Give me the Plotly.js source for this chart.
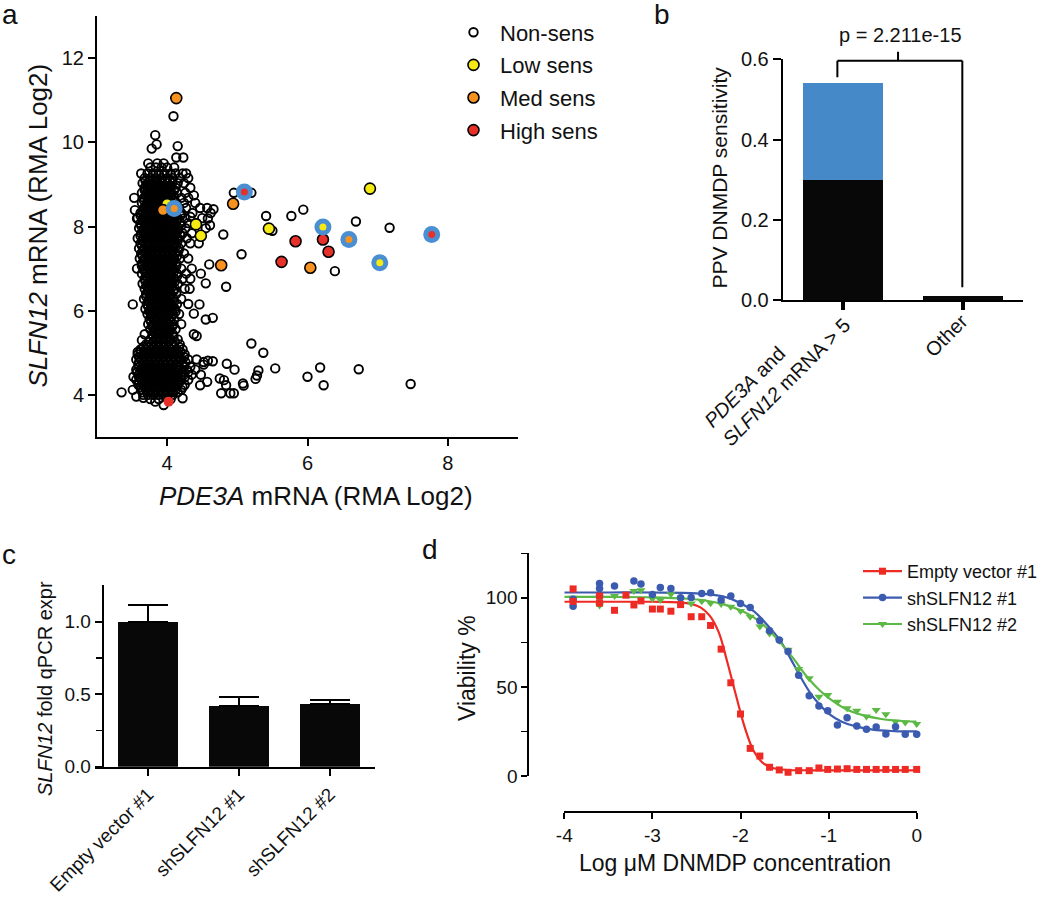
<!DOCTYPE html>
<html><head><meta charset="utf-8">
<script src="https://cdn.plot.ly/plotly-3.0.1.min.js"></script>
<style>html,body{margin:0;padding:0;background:#fff;} #chart{width:1050px;height:899px;}</style>
</head><body><div id="chart"></div>
<script>
// ================= DATA =================
// ---- Panel a: PDE3A vs SLFN12 expression (RMA log2) ----
// dense cell-line cluster, row by row: [SLFN12 value, [PDE3A values]]
const nonSensRows = [
  [9.50, [3.73, 3.86, 3.95]],
  [9.40, [3.76, 3.84, 3.92, 4.00, 4.10]],
  [9.26, [3.72, 3.80, 3.88, 3.96, 4.05, 4.12, 4.22, 4.27]],
  [9.15, [3.68, 3.76, 3.84, 3.92, 4.00, 4.08, 4.18, 4.30]],
  [9.03, [3.65, 3.72, 3.79, 3.86, 3.93, 4.00, 4.07, 4.15, 4.24]],
  [8.92, [3.68, 3.75, 3.82, 3.89, 3.96, 4.03, 4.12, 4.33]],
  [8.80, [3.64, 3.71, 3.78, 3.85, 3.92, 3.99, 4.06, 4.14, 4.26]],
  [8.68, [3.67, 3.74, 3.81, 3.88, 3.95, 4.02, 4.10, 4.20, 4.30]],
  [8.56, [3.64, 3.71, 3.78, 3.85, 3.92, 3.99, 4.06, 4.13, 4.24, 4.40]],
  [8.44, [3.67, 3.74, 3.81, 3.88, 3.95, 4.02, 4.09, 4.17, 4.27, 4.47, 4.57]],
  [8.32, [3.62, 3.69, 3.76, 3.83, 3.90, 3.97, 4.04, 4.11, 4.20, 4.36, 4.62]],
  [8.20, [3.58, 3.66, 3.73, 3.80, 3.87, 3.94, 4.01, 4.08, 4.15, 4.25, 4.50]],
  [8.08, [3.62, 3.69, 3.76, 3.83, 3.90, 3.97, 4.04, 4.11, 4.19, 4.30, 4.42]],
  [7.96, [3.60, 3.67, 3.74, 3.81, 3.88, 3.95, 4.02, 4.09, 4.16, 4.26, 4.55]],
  [7.84, [3.63, 3.70, 3.77, 3.84, 3.91, 3.98, 4.05, 4.12, 4.22, 4.35]],
  [7.72, [3.58, 3.66, 3.73, 3.80, 3.87, 3.94, 4.01, 4.08, 4.15, 4.28]],
  [7.60, [3.62, 3.69, 3.76, 3.83, 3.90, 3.97, 4.04, 4.11, 4.20, 4.33, 4.45]],
  [7.48, [3.60, 3.67, 3.74, 3.81, 3.88, 3.95, 4.02, 4.09, 4.17]],
  [7.36, [3.63, 3.70, 3.77, 3.84, 3.91, 3.98, 4.05, 4.12, 4.24]],
  [7.24, [3.61, 3.68, 3.75, 3.82, 3.89, 3.96, 4.03, 4.10, 4.18, 4.30]],
  [7.12, [3.64, 3.71, 3.78, 3.85, 3.92, 3.99, 4.06, 4.13]],
  [7.00, [3.57, 3.67, 3.74, 3.81, 3.88, 3.95, 4.02, 4.09, 4.20, 4.35]],
  [6.88, [3.64, 3.71, 3.78, 3.85, 3.92, 3.99, 4.06, 4.14, 4.27, 4.48]],
  [6.76, [3.68, 3.75, 3.82, 3.89, 3.96, 4.03, 4.10, 4.22, 4.33]],
  [6.64, [3.65, 3.72, 3.79, 3.86, 3.93, 4.00, 4.07, 4.15]],
  [6.52, [3.68, 3.75, 3.82, 3.89, 3.96, 4.03, 4.11, 4.25, 4.32]],
  [6.40, [3.70, 3.77, 3.84, 3.91, 3.98, 4.05, 4.13]],
  [6.28, [3.67, 3.74, 3.81, 3.88, 3.95, 4.02, 4.09, 4.20]],
  [6.16, [3.71, 3.78, 3.85, 3.92, 3.99, 4.06, 4.14, 4.30]],
  [6.04, [3.69, 3.76, 3.83, 3.90, 3.97, 4.04, 4.11]],
  [5.92, [3.72, 3.79, 3.86, 3.93, 4.00, 4.08, 4.17]],
  [5.80, [3.75, 3.82, 3.89, 3.96, 4.03, 4.10]],
  [5.68, [3.73, 3.80, 3.87, 3.94, 4.01, 4.09, 4.20]],
  [5.56, [3.76, 3.83, 3.90, 3.97, 4.04, 4.12]],
  [5.44, [3.68, 3.79, 3.86, 3.93, 4.00, 4.08]],
  [5.32, [3.76, 3.83, 3.90, 3.97, 4.05, 4.15]],
  [5.20, [3.70, 3.78, 3.85, 3.92, 3.99, 4.07, 4.18]],
  [5.08, [3.62, 3.70, 3.77, 3.84, 3.91, 3.98, 4.05, 4.13, 4.22]],
  [4.96, [3.58, 3.66, 3.73, 3.80, 3.87, 3.94, 4.01, 4.08, 4.16, 4.25]],
  [4.84, [3.56, 3.63, 3.70, 3.77, 3.84, 3.91, 3.98, 4.05, 4.12, 4.20, 4.30]],
  [4.72, [3.59, 3.66, 3.73, 3.80, 3.87, 3.94, 4.01, 4.08, 4.15, 4.23, 4.52]],
  [4.60, [3.56, 3.63, 3.70, 3.77, 3.84, 3.91, 3.98, 4.05, 4.12, 4.19, 4.28, 4.40]],
  [4.48, [3.60, 3.67, 3.74, 3.81, 3.88, 3.95, 4.02, 4.09, 4.16, 4.24, 4.35, 4.48]],
  [4.36, [3.56, 3.63, 3.70, 3.77, 3.84, 3.91, 3.98, 4.05, 4.12, 4.20, 4.30]],
  [4.24, [3.59, 3.66, 3.73, 3.80, 3.87, 3.94, 4.01, 4.08, 4.15, 4.25]],
  [4.12, [3.63, 3.70, 3.77, 3.84, 3.91, 3.98, 4.05, 4.12, 4.20]],
  [4.00, [3.66, 3.73, 3.80, 3.87, 3.94, 4.01, 4.08]],
  [3.90, [3.76, 3.88, 4.05]]
];
// the core of the cluster is packed more tightly: in-between rows
const nonSensCoreRows = [
  [9.09, [3.69, 3.76, 3.83, 3.90, 3.97, 4.04]],
  [8.97, [3.70, 3.77, 3.84, 3.91, 3.98, 4.05]],
  [8.86, [3.68, 3.75, 3.82, 3.89, 3.96, 4.03, 4.10]],
  [8.74, [3.70, 3.77, 3.84, 3.91, 3.98, 4.06]],
  [8.62, [3.67, 3.74, 3.81, 3.88, 3.95, 4.02, 4.09]],
  [8.50, [3.70, 3.77, 3.84, 3.91, 3.98, 4.05, 4.12]],
  [8.38, [3.65, 3.72, 3.79, 3.86, 3.93, 4.00, 4.07, 4.14]],
  [8.26, [3.62, 3.69, 3.76, 3.83, 3.90, 3.97, 4.04, 4.11, 4.19]],
  [8.14, [3.65, 3.72, 3.79, 3.86, 3.93, 4.00, 4.07, 4.14]],
  [8.02, [3.63, 3.70, 3.77, 3.84, 3.91, 3.98, 4.05, 4.12, 4.20]],
  [7.90, [3.66, 3.73, 3.80, 3.87, 3.94, 4.01, 4.08, 4.15]],
  [7.78, [3.62, 3.69, 3.76, 3.83, 3.90, 3.97, 4.04, 4.11, 4.19]],
  [7.66, [3.65, 3.72, 3.79, 3.86, 3.93, 4.00, 4.07, 4.15]],
  [7.54, [3.64, 3.71, 3.78, 3.85, 3.92, 3.99, 4.06, 4.13]],
  [7.42, [3.66, 3.73, 3.80, 3.87, 3.94, 4.01, 4.08, 4.16]],
  [7.30, [3.65, 3.72, 3.79, 3.86, 3.93, 4.00, 4.07, 4.14]],
  [7.18, [3.67, 3.74, 3.81, 3.88, 3.95, 4.02, 4.09]],
  [7.06, [3.64, 3.71, 3.78, 3.85, 3.92, 3.99, 4.06, 4.13]],
  [6.94, [3.68, 3.75, 3.82, 3.89, 3.96, 4.03, 4.10]],
  [6.82, [3.71, 3.78, 3.85, 3.92, 3.99, 4.06, 4.14]],
  [6.70, [3.69, 3.76, 3.83, 3.90, 3.97, 4.04, 4.11]],
  [6.58, [3.71, 3.78, 3.85, 3.92, 3.99, 4.07]],
  [6.46, [3.73, 3.80, 3.87, 3.94, 4.01, 4.09]],
  [6.34, [3.70, 3.77, 3.84, 3.91, 3.98, 4.05]],
  [6.22, [3.74, 3.81, 3.88, 3.95, 4.02, 4.10]],
  [6.10, [3.73, 3.80, 3.87, 3.94, 4.01, 4.08]],
  [5.98, [3.75, 3.82, 3.89, 3.96, 4.03, 4.12]],
  [5.86, [3.78, 3.85, 3.92, 3.99, 4.06]],
  [5.74, [3.77, 3.84, 3.91, 3.98, 4.05]],
  [5.62, [3.79, 3.86, 3.93, 4.00, 4.07]],
  [5.50, [3.82, 3.89, 3.96, 4.03]],
  [5.38, [3.80, 3.87, 3.94, 4.01, 4.09]],
  [5.26, [3.74, 3.81, 3.88, 3.95, 4.02, 4.11]],
  [5.14, [3.66, 3.74, 3.81, 3.88, 3.95, 4.02, 4.09, 4.17]],
  [5.02, [3.62, 3.69, 3.76, 3.83, 3.90, 3.97, 4.04, 4.11, 4.19]],
  [4.90, [3.60, 3.67, 3.74, 3.81, 3.88, 3.95, 4.02, 4.09, 4.16, 4.24]],
  [4.78, [3.60, 3.67, 3.74, 3.81, 3.88, 3.95, 4.02, 4.09, 4.17, 4.26]],
  [4.66, [3.59, 3.66, 3.73, 3.80, 3.87, 3.94, 4.01, 4.08, 4.16, 4.24]],
  [4.54, [3.57, 3.64, 3.71, 3.78, 3.85, 3.92, 3.99, 4.06, 4.13, 4.21, 4.30]],
  [4.42, [3.60, 3.67, 3.74, 3.81, 3.88, 3.95, 4.02, 4.09, 4.16, 4.25]],
  [4.30, [3.60, 3.67, 3.74, 3.81, 3.88, 3.95, 4.02, 4.09, 4.17]],
  [4.18, [3.62, 3.69, 3.76, 3.83, 3.90, 3.97, 4.04, 4.11, 4.22]],
  [4.06, [3.65, 3.72, 3.79, 3.86, 3.93, 4.00, 4.07, 4.15]]
];
// scattered non-sensitive lines outside the dense cluster
const nonSensOutX = [4.09,3.83,3.85,4.15,3.78,4.13,4.23,3.63,3.53,3.54,3.57,4.38,4.33,4.58,4.61,4.66,4.95,5.20,5.41,5.77,5.94,6.69,7.17,4.80,5.06,5.50,6.39,4.60,4.84,4.55,3.51,4.55,4.65,4.38,4.46,4.38,4.42,5.20,5.37,5.54,6.18,6.00,6.23,6.73,7.47,5.30,5.28,5.26,5.08,5.09,4.95,4.90,4.77,4.85,4.96,4.75,4.81,4.84,4.65,4.58,4.52,4.47,4.57,3.35,3.51,3.56,3.66,3.83,3.95,4.22,3.52,3.58,3.64,4.42,4.33];
const nonSensOutY = [10.62,10.17,9.95,9.91,9.85,9.64,9.64,9.26,8.68,8.39,8.19,8.74,8.23,8.19,8.03,8.41,8.80,8.80,8.25,8.25,8.40,8.12,7.97,7.81,7.34,7.90,6.94,7.10,6.57,6.65,6.15,5.79,5.83,5.93,6.15,5.44,5.40,5.22,5.00,4.63,4.65,4.43,4.23,4.61,4.26,4.58,4.46,4.38,4.27,4.22,4.04,4.04,4.04,4.74,4.60,4.39,4.35,4.23,4.80,4.81,4.78,4.23,4.31,4.06,4.12,3.96,3.93,3.84,3.76,3.92,4.43,5.02,5.30,4.84,4.67];
const lowX  = [4.00, 4.41, 4.48, 5.45, 6.89];
const lowY  = [8.53, 8.05, 7.78, 7.95, 8.90];
const medX  = [4.13, 3.94, 4.94, 4.77, 6.04];
const medY  = [11.05, 8.39, 8.54, 7.08, 7.02];
const highX = [5.63, 5.83, 6.22, 6.30];
const highY = [7.16, 7.65, 7.69, 7.40];
const highPlainX = [4.02];
const highPlainY = [3.84];
// lines highlighted with a blue ring
const ringX   = [4.10, 5.10, 6.22, 6.59, 7.03, 7.77];
const ringY   = [8.43, 8.82, 7.99, 7.69, 7.14, 7.81];
const ringCat = ['Med', 'High', 'Low', 'Med', 'Low', 'High'];

// ---- Panel b: PPV of DNMDP sensitivity ----
const bCats  = ['PDE3A and SLFN12 mRNA > 5', 'Other'];
const bBlack = [0.30, 0.011];
const bBlue  = [0.24, 0];
const bPText = 'p = 2.211e-15';

// ---- Panel c: SLFN12 knock-down qPCR ----
const cCats = ['Empty vector #1', 'shSLFN12 #1', 'shSLFN12 #2'];
const cVals = [1.00, 0.42, 0.432];
const cErr  = [0.115, 0.063, 0.028];

// ---- Panel d: viability vs log DNMDP ----
const dNames = ['Empty vector #1', 'shSLFN12 #1', 'shSLFN12 #2'];
const redX = [-3.9,-3.9,-3.6,-3.6,-3.43,-3.3,-3.21,-3.13,-3.0,-2.91,-2.79,-2.68,-2.56,-2.44,-2.34,-2.22,-2.11,-2.0,-1.89,-1.78,-1.67,-1.56,-1.46,-1.34,-1.22,-1.11,-1.01,-0.9,-0.79,-0.68,-0.57,-0.46,-0.35,-0.24,-0.13,0];
const redY = [105,98,101,97,93,101.5,96,98.3,93.7,93.7,92.5,96.2,89.4,89.4,84.5,71.2,52.3,34.8,15.5,11.2,4.9,3.4,2.1,3.0,3.0,4.5,3.7,3.9,4.1,3.7,3.7,3.7,3.7,3.7,3.7,3.7];
const blueX = [-3.9,-3.9,-3.6,-3.6,-3.6,-3.43,-3.21,-3.13,-3.0,-2.91,-2.79,-2.68,-2.56,-2.44,-2.34,-2.22,-2.11,-2.0,-1.89,-1.78,-1.67,-1.56,-1.46,-1.34,-1.22,-1.11,-1.01,-0.9,-0.79,-0.68,-0.57,-0.46,-0.35,-0.24,-0.13,0];
const blueY = [99.2,95.3,108.1,105.3,101.5,106.6,109.4,107.7,101.9,105.8,105.3,100,100.2,102.4,102.8,98.8,101,96.8,94.6,87.1,81.5,76.3,69.9,56.6,45.0,39.3,36.6,28.6,32.7,28.0,26.2,27.5,23.6,27.7,23.5,23.5];
const greenX = [-3.9,-3.6,-3.6,-3.43,-3.21,-3.13,-3.0,-2.91,-2.79,-2.68,-2.56,-2.44,-2.34,-2.22,-2.11,-2.0,-1.89,-1.78,-1.67,-1.56,-1.46,-1.34,-1.22,-1.11,-1.01,-0.9,-0.79,-0.68,-0.57,-0.46,-0.35,-0.24,-0.13,0];
const greenY = [100,95.7,99.5,101,103.8,104.3,99.5,98.8,102,99,96.8,98.1,97,96.5,95,92.6,89.4,83.9,80.0,75.9,70.8,60,54.8,44.5,45.5,41.7,38,36.6,33.4,37,34.6,30.5,30,29.2];
// fitted dose-response curves
const redFitX = [-4,-3.5,-3,-2.7,-2.55,-2.45,-2.35,-2.25,-2.15,-2.05,-1.95,-1.85,-1.75,-1.65,-1.5,-1.2,-0.6,0];
const redFitY = [97.8,97.8,97.8,97.5,96.5,94.5,90,81,64,45,27,14,7.5,4.8,3.5,3.2,3.2,3.2];
const blueFitX = [-4,-3.5,-3,-2.5,-2.2,-2.0,-1.85,-1.7,-1.55,-1.4,-1.3,-1.2,-1.1,-1.0,-0.85,-0.7,-0.5,-0.25,0];
const blueFitY = [103,103,103,102.5,100.8,97,92.5,85,76,63,54,46,40,35,30.5,28,26,25.2,25];
const greenFitX = [-4,-3.5,-3,-2.6,-2.4,-2.2,-2.0,-1.85,-1.7,-1.55,-1.4,-1.25,-1.1,-0.95,-0.8,-0.6,-0.4,-0.2,0];
const greenFitY = [100.5,100.5,100.3,99.5,98.5,96.5,93,89,83,75,66,56,48,42,37.5,34,32,31,30.5];
const dXTicks = [-4, -3, -2, -1, 0];
const dXText  = ['-4', '-3', '-2', '-1', '0'];

// ================= STYLE =================
const FONT = 'Liberation Sans, Arial, Helvetica, sans-serif';
const INK = '#111111';
const W = 1050, H = 899;
const px = v => v / W;
const py = v => 1 - v / H;
const C = {low: '#f5ea14', med: '#f7921e', high: '#e8302a', ring: '#4a8fd2',
           barBlue: '#4589c9', dRed: '#ee2a24', dBlue: '#3b5bb0', dGreen: '#5cb946'};
const catColor = {Low: C.low, Med: C.med, High: C.high};

const nsX = [], nsY = [];
nonSensRows.concat(nonSensCoreRows).forEach(([y, xs]) => xs.forEach(x => { nsX.push(x); nsY.push(y); }));
nonSensOutX.forEach((x, i) => { nsX.push(x); nsY.push(nonSensOutY[i]); });

const filled = col => ({symbol: 'circle', size: 11, color: col, line: {color: '#000', width: 1.6}});

const traces = [
  // panel a
  {type: 'scatter', mode: 'markers', x: nsX, y: nsY, name: 'Non-sens', xaxis: 'x', yaxis: 'y',
   legend: 'legend', legendgroup: 'g1',
   marker: {symbol: 'circle-open', size: 8.5, color: '#000', line: {width: 1.9}}},
  {type: 'scatter', mode: 'markers', x: lowX, y: lowY, name: 'Low sens', xaxis: 'x', yaxis: 'y',
   legend: 'legend', legendgroup: 'g2', marker: filled(C.low)},
  {type: 'scatter', mode: 'markers', x: medX, y: medY, name: 'Med sens', xaxis: 'x', yaxis: 'y',
   legend: 'legend', legendgroup: 'g3', marker: filled(C.med)},
  {type: 'scatter', mode: 'markers', x: highX, y: highY, name: 'High sens', xaxis: 'x', yaxis: 'y',
   legend: 'legend', legendgroup: 'g4', marker: filled(C.high)},
  {type: 'scatter', mode: 'markers', x: highPlainX, y: highPlainY, showlegend: false, xaxis: 'x', yaxis: 'y',
   marker: {symbol: 'circle', size: 10, color: C.high}},
  {type: 'scatter', mode: 'markers', x: ringX, y: ringY, showlegend: false, xaxis: 'x', yaxis: 'y',
   marker: {symbol: 'circle', size: 17, color: C.ring}},
  {type: 'scatter', mode: 'markers', x: ringX, y: ringY, showlegend: false, xaxis: 'x', yaxis: 'y',
   marker: {symbol: 'circle', size: 7, color: ringCat.map(c => catColor[c])}},
  // panel b
  {type: 'bar', x: bCats, y: bBlack, xaxis: 'x2', yaxis: 'y2', width: 0.667, showlegend: false,
   marker: {color: '#080808'}},
  {type: 'bar', x: bCats, y: bBlue, xaxis: 'x2', yaxis: 'y2', width: 0.667, showlegend: false,
   marker: {color: C.barBlue}},
  // panel c
  {type: 'bar', x: cCats, y: cVals, xaxis: 'x3', yaxis: 'y3', width: 0.66, showlegend: false,
   marker: {color: '#080808'},
   error_y: {type: 'data', array: cErr, arrayminus: [0, 0, 0], symmetric: false, color: '#000', thickness: 2, width: 20}},
  // panel d fits
  {type: 'scatter', mode: 'lines', x: redFitX, y: redFitY, xaxis: 'x4', yaxis: 'y4', showlegend: false,
   line: {color: C.dRed, width: 2.2, shape: 'spline', smoothing: 1}, cliponaxis: false},
  {type: 'scatter', mode: 'lines', x: blueFitX, y: blueFitY, xaxis: 'x4', yaxis: 'y4', showlegend: false,
   line: {color: C.dBlue, width: 2.2, shape: 'spline', smoothing: 1}, cliponaxis: false},
  {type: 'scatter', mode: 'lines', x: greenFitX, y: greenFitY, xaxis: 'x4', yaxis: 'y4', showlegend: false,
   line: {color: C.dGreen, width: 2.2, shape: 'spline', smoothing: 1}, cliponaxis: false},
  // panel d points
  {type: 'scatter', mode: 'markers', x: greenX, y: greenY, xaxis: 'x4', yaxis: 'y4', showlegend: false,
   marker: {symbol: 'triangle-down', size: 8, color: C.dGreen}, cliponaxis: false},
  {type: 'scatter', mode: 'markers', x: blueX, y: blueY, xaxis: 'x4', yaxis: 'y4', showlegend: false,
   marker: {symbol: 'circle', size: 7.5, color: C.dBlue}, cliponaxis: false},
  {type: 'scatter', mode: 'markers', x: redX, y: redY, xaxis: 'x4', yaxis: 'y4', showlegend: false,
   marker: {symbol: 'square', size: 7, color: C.dRed}, cliponaxis: false},
  // panel d legend keys
  {type: 'scatter', mode: 'lines+markers', x: [null], y: [null], xaxis: 'x4', yaxis: 'y4', name: dNames[0],
   legend: 'legend2', legendgroup: 'd1', line: {color: C.dRed, width: 2.2}, marker: {symbol: 'square', size: 7, color: C.dRed}},
  {type: 'scatter', mode: 'lines+markers', x: [null], y: [null], xaxis: 'x4', yaxis: 'y4', name: dNames[1],
   legend: 'legend2', legendgroup: 'd2', line: {color: C.dBlue, width: 2.2}, marker: {symbol: 'circle', size: 7.5, color: C.dBlue}},
  {type: 'scatter', mode: 'lines+markers', x: [null], y: [null], xaxis: 'x4', yaxis: 'y4', name: dNames[2],
   legend: 'legend2', legendgroup: 'd3', line: {color: C.dGreen, width: 2.2}, marker: {symbol: 'triangle-down', size: 8, color: C.dGreen}}
];

const axBase = {showline: true, linewidth: 2, linecolor: '#000', ticks: 'outside', ticklen: 7, tickwidth: 2,
  tickcolor: '#000', showgrid: false, zeroline: false, fixedrange: true,
  tickfont: {family: FONT, size: 20, color: INK}};

const ann = (text, x, y, size, extra) => Object.assign({text, x, y, xref: 'paper', yref: 'paper',
  showarrow: false, xanchor: 'center', yanchor: 'middle', font: {family: FONT, size, color: INK}}, extra || {});

const layout = {
  width: W, height: H, margin: {l: 0, r: 0, t: 0, b: 0}, paper_bgcolor: '#fff', plot_bgcolor: 'rgba(0,0,0,0)',
  font: {family: FONT, color: INK}, barmode: 'stack',
  xaxis: Object.assign({}, axBase, {domain: [px(97), px(518)], range: [3, 9], tickvals: [4, 6, 8], anchor: 'y'}),
  yaxis: Object.assign({}, axBase, {domain: [py(437), py(16)], range: [3, 13], tickvals: [4, 6, 8, 10, 12], anchor: 'x'}),
  xaxis2: Object.assign({}, axBase, {domain: [px(782.7), px(1023)], range: [-0.5, 1.5], anchor: 'y2',
    showticklabels: false, tickwidth: 3.5, ticklen: 8}),
  yaxis2: Object.assign({}, axBase, {domain: [py(300), py(59.3)], range: [0, 0.6], tickvals: [0, 0.2, 0.4, 0.6],
    tickformat: '.1f', anchor: 'x2', ticklen: 8}),
  xaxis3: Object.assign({}, axBase, {domain: [px(95), px(375)], range: [-0.585, 2.5], anchor: 'y3',
    tickangle: -45, tickfont: {family: FONT, size: 19, color: INK}}),
  yaxis3: Object.assign({}, axBase, {domain: [py(766.7), py(585)], range: [0, 1.253], anchor: 'free', position: px(102.7),
    tickvals: [0, 0.5, 1.0], tickformat: '.1f', tickfont: {family: FONT, size: 19, color: INK},
    minor: {tickvals: [0.25, 0.75], ticks: 'outside', ticklen: 6, tickwidth: 1.5, tickcolor: '#000', showgrid: false}}),
  xaxis4: Object.assign({}, axBase, {domain: [px(564.3), px(916.7)], range: [-4, 0], anchor: 'free', position: py(812.3),
    tickvals: dXTicks, ticktext: dXText, ticklen: 6, tickfont: {family: FONT, size: 19, color: INK}}),
  yaxis4: Object.assign({}, axBase, {domain: [py(776), py(553.3)], range: [0, 125], anchor: 'free', position: px(528.3),
    tickvals: [0, 50, 100], ticklen: 6, tickfont: {family: FONT, size: 19, color: INK},
    minor: {tickvals: [25, 75, 125], ticks: 'outside', ticklen: 6, tickwidth: 1.5, tickcolor: '#000', showgrid: false}}),
  legend: {x: px(447), y: py(11.5), xanchor: 'left', yanchor: 'top', bgcolor: 'rgba(0,0,0,0)', borderwidth: 0,
    font: {family: FONT, size: 22, color: INK}, itemwidth: 43, traceorder: 'grouped', tracegroupgap: 1},
  legend2: {x: px(858), y: py(553), xanchor: 'left', yanchor: 'top', bgcolor: 'rgba(0,0,0,0)', borderwidth: 0,
    font: {family: FONT, size: 18, color: INK}, itemwidth: 39, traceorder: 'grouped', tracegroupgap: 0},
  shapes: [
    {type: 'line', xref: 'x2', yref: 'paper', x0: -0.045, x1: 0.995, y0: py(60.7), y1: py(60.7), line: {color: '#000', width: 2}},
    {type: 'line', xref: 'x2', yref: 'paper', x0: -0.045, x1: -0.045, y0: py(60.7), y1: py(77.3), line: {color: '#000', width: 2}},
    {type: 'line', xref: 'x2', yref: 'paper', x0: 0.995, x1: 0.995, y0: py(60.7), y1: py(287.3), line: {color: '#000', width: 2}},
    {type: 'line', xref: 'x2', yref: 'paper', x0: 0.46, x1: 0.46, y0: py(60.7), y1: py(51.7), line: {color: '#000', width: 2}}
  ],
  annotations: [
    // panel letters
    ann('a', px(0), py(14.4), 28, {xanchor: 'left'}),
    ann('b', px(651.7), py(14.7), 28, {xanchor: 'left'}),
    ann('c', px(0), py(554.7), 28, {xanchor: 'left'}),
    ann('d', px(420), py(549.4), 28, {xanchor: 'left'}),
    // axis titles
    ann('<i>SLFN12</i> mRNA (RMA Log2)', px(37.5), py(226), 26, {textangle: -90}),
    ann('<i>PDE3A</i> mRNA (RMA Log2)', px(316), py(496), 26),
    ann('PPV DNMDP sensitivity', px(719), py(177.5), 21, {textangle: -90}),
    ann('<i>SLFN12</i> fold qPCR expr', px(45), py(689), 20, {textangle: -90}),
    ann('Viability %', px(467), py(668), 23, {textangle: -90}),
    ann('Log \u03bcM DNMDP concentration', px(735), py(863), 23),
    // panel b category labels and p-value
    ann('<i>PDE3A</i> and<br><i>SLFN12</i> mRNA > 5', px(777), py(373), 20, {textangle: -45, align: 'left'}),
    ann(bCats[1], px(945.5), py(335.5), 20, {textangle: -45}),
    ann(bPText, px(900), py(35), 20)
  ]
};

Plotly.newPlot('chart', traces, layout, {staticPlot: true, displayModeBar: false});
</script></body></html>
